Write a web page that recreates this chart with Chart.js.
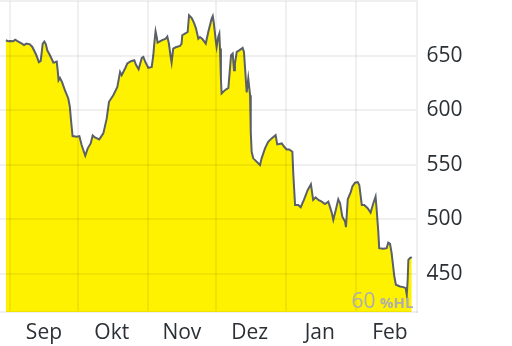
<!DOCTYPE html>
<html>
<head>
<meta charset="utf-8">
<script src="https://cdn.jsdelivr.net/npm/chart.js@4"></script>
<style>
html,body{margin:0;padding:0;background:#fff;}
#wrap{width:512px;height:346px;position:relative;}
</style>
</head>
<body>
<div id="wrap"><canvas id="c"></canvas></div>
<script>
// days since 1 Sep (x position in days)
const days = [-1.8,-0.8,0.4,1.5,2.3,3.7,5.3,6.2,7.4,8.8,
9.9,11.5,12.8,13.6,14.5,15.2,15.9,16.5,17.7,19.2,
19.9,20.7,21.1,21.5,22.1,23.0,24.3,25.8,26.5,27.0,
27.7,29.5,30.7,31.7,33.3,34.4,35.7,36.6,37.6,39.5,
41.3,42.8,43.8,45.7,47.5,48.7,49.4,50.9,51.9,53.5,
55.0,55.7,56.9,58.3,59.0,60.0,61.2,62.7,63.4,63.8,
64.4,64.9,65.3,67.1,68.9,69.6,70.3,71.1,71.5,72.2,
73.3,75.2,75.9,76.2,77.4,78.6,79.2,80.4,81.4,82.3,
83.3,84.0,85.2,86.6,87.7,89.2,89.7,90.2,91.1,91.4,
92.1,92.6,92.9,93.3,93.6,95.1,96.6,97.3,97.8,98.5,
99.1,99.5,100.3,101.4,102.9,103.5,104.1,104.7,105.4,106.2,
106.5,106.9,107.6,110.6,111.3,112.8,114.2,115.7,117.5,118.2,
120.2,121.3,122.4,123.5,124.9,125.3,126.1,127.5,128.6,130.0,
131.7,133.1,134.1,135.2,136.4,137.9,139.3,140.8,142.3,143.0,
144.1,145.2,146.0,147.0,148.2,148.6,149.4,150.8,151.4,152.6,
153.8,154.5,155.6,156.7,158.2,159.5,160.7,161.7,162.2,162.9,
163.3,165.1,166.6,167.3,168.1,168.8,170.0,170.7,172.5,174.0,
175.0,175.5,175.9,176.2,176.9,177.7];

const prices = [664.0,663.1,663.4,663.1,664.6,662.8,661.0,659.7,661.0,660.3,
657.9,651.2,643.9,645.1,661.0,662.8,660.3,654.8,650.3,643.6,
643.9,644.5,636.6,627.4,629.5,625.9,618.3,610.7,603.0,590.8,
576.2,575.6,576.2,568.0,558.2,565.0,569.5,576.8,575.0,573.2,
578.7,592.4,607.6,613.7,621.3,635.0,632.0,638.1,642.7,644.8,
645.7,641.8,637.5,647.8,648.7,643.6,638.7,639.6,650.3,660.3,
672.2,667.0,661.9,664.0,665.5,667.4,661.0,648.7,643.6,656.4,
657.6,658.8,661.0,668.6,670.1,671.6,686.9,684.4,680.0,674.7,
665.5,667.0,664.9,661.0,671.6,683.8,686.2,679.3,662.4,657.9,
667.0,670.1,656.4,629.0,615.2,618.3,620.4,638.1,650.3,651.8,
636.6,642.7,653.3,654.8,657.0,653.3,635.0,616.2,629.0,613.7,
580.1,561.8,555.8,549.7,555.8,565.0,571.0,574.1,577.1,568.6,
569.5,566.4,564.0,564.0,561.8,542.1,513.1,513.1,511.0,517.7,
526.8,532.0,517.7,520.1,517.7,516.1,514.0,516.1,506.1,499.4,
508.5,518.3,514.7,502.4,497.8,492.7,518.3,525.3,529.8,533.5,
534.1,531.4,513.1,513.1,510.1,506.1,514.7,520.7,508.5,488.7,
473.5,472.9,473.5,478.6,477.4,468.9,447.5,440.0,438.4,437.8,
436.9,430.8,444.5,462.8,464.4,465.3];

const monthStarts = [0,30,61,91,122,153];
const monthLabels = ['Sep','Okt','Nov','Dez','Jan','Feb'];
const yTicks = [450,500,550,600,650,700];
const yTickLabels = ['450','500','550','600','650',''];
const watermarkBig = '60';
const watermarkSmall = '%HL';

const points = days.map((d,i)=>({x:d,y:prices[i]}));
const gridColor = 'rgba(0,0,0,0.06)';
const textColor = '#2b3035';

const watermark = {
  id:'watermark',
  afterDraw(chart){
    const ctx = chart.ctx, a = chart.chartArea;
    ctx.save();
    ctx.fillStyle = '#adadad';
    ctx.textBaseline = 'alphabetic';
    ctx.textAlign = 'left';
    ctx.font = '21px "Open Sans"';
    ctx.fillText(watermarkBig, a.right - 65, a.bottom - 3.7);
    ctx.font = 'bold 15px "Open Sans"';
    ctx.fillText(watermarkSmall, a.right - 36.5, a.bottom - 3.7);
    ctx.restore();
  }
};

function noPad(s){ s.paddingLeft = 0; s.paddingRight = 0; s.paddingTop = 0; s.paddingBottom = 0; }

new Chart(document.getElementById('c'), {
  type:'line',
  data:{datasets:[{
    data:points,
    borderColor:'#5a6067',
    borderWidth:2,
    backgroundColor:'#FFF200',
    fill:'start',
    pointRadius:0,
    tension:0
  }]},
  options:{
    responsive:true,
    maintainAspectRatio:false,
    animation:false,
    layout:{padding:{top:1,left:0,right:0,bottom:0}},
    plugins:{legend:{display:false},tooltip:{enabled:false}},
    scales:{
      x:{
        type:'linear',
        min:-4.4, max:179.8,
        afterBuildTicks(s){ s.ticks = monthStarts.map(v=>({value:v})); },
        afterFit(s){ s.height = 34; noPad(s); },
        grid:{color:gridColor,lineWidth:2,drawTicks:false,z:1},
        border:{display:true,color:gridColor,width:2,z:1},
        ticks:{
          autoSkip:false,maxRotation:0,labelOffset:34,padding:8,
          color:textColor,font:{family:'"Open Sans"',size:21},
          callback:(v,i)=>monthLabels[i]
        }
      },
      y:{
        position:'right',
        min:415,max:700,
        afterBuildTicks(s){ s.ticks = yTicks.map(v=>({value:v})); },
        afterFit(s){ s.width = 95.5; noPad(s); },
        grid:{color:gridColor,lineWidth:2,drawTicks:false,z:1},
        border:{display:true,color:gridColor,width:2,z:1},
        ticks:{
          padding:10,
          color:textColor,font:{family:'"Open Sans"',size:21},
          callback:(v,i)=>yTickLabels[i]
        }
      }
    }
  },
  plugins:[watermark]
});
</script>
</body>
</html>
